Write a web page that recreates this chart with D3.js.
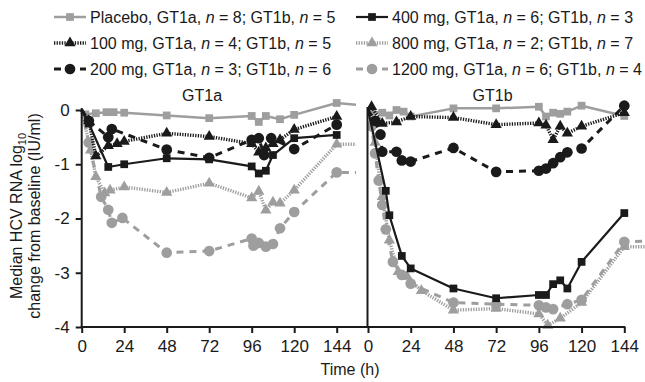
<!DOCTYPE html>
<html><head><meta charset="utf-8">
<script src="https://cdn.jsdelivr.net/npm/d3@7"></script>
<style>
body{margin:0;background:#fff;}
svg{display:block;font-family:"Liberation Sans",Arial,sans-serif;}
</style></head>
<body><svg id="c" width="645" height="382"></svg>
<script>
// ---------- DATA ----------
const panels = ["GT1a", "GT1b"];
const xTicks = [0, 24, 48, 72, 96, 120, 144];
const yTicks = [0, -1, -2, -3, -4];
const seriesNames = [
  "Placebo, GT1a, |n| = 8; GT1b, |n| = 5",
  "400 mg, GT1a, |n| = 6; GT1b, |n| = 3",
  "100 mg, GT1a, |n| = 4; GT1b, |n| = 5",
  "800 mg, GT1a, |n| = 2; GT1b, |n| = 7",
  "200 mg, GT1a, |n| = 3; GT1b, |n| = 6",
  "1200 mg, GT1a, |n| = 6; GT1b, |n| = 4"
];
// GT1a: [time (h), median change log10]
const placeboA = [[0,0],[2,-0.08],[8,-0.06],[14,-0.04],[18,-0.04],[24,-0.05],[48,-0.1],[72,-0.15],[96,-0.11],[100,-0.22],[104,-0.11],[112,-0.17],[120,-0.09],[144,0.13],[168,0.06]];
const mg400A = [[0,0],[4,-0.25],[15,-1.05],[24,-1.0],[48,-0.89],[72,-0.91],[96,-1.04],[100,-1.17],[104,-1.12],[108,-0.83],[120,-0.52],[144,-0.46]];
const mg100A = [[0,0],[4,-0.2],[8,-0.85],[15,-0.66],[20,-0.62],[24,-0.58],[48,-0.43],[72,-0.49],[96,-0.62],[100,-0.78],[104,-0.7],[108,-0.62],[112,-0.55],[120,-0.36],[144,-0.12]];
const mg800A = [[0,0],[5,-0.74],[8,-1.23],[13,-1.53],[16,-1.48],[24,-1.42],[48,-1.52],[72,-1.35],[96,-1.62],[100,-1.5],[104,-1.85],[108,-1.7],[112,-1.72],[120,-1.48],[144,-0.63],[168,-0.63]];
const mg200A = [[0,0],[4,-0.2],[15,-0.5],[17,-0.35],[48,-0.73],[72,-0.88],[96,-0.55],[100,-0.52],[103,-0.83],[107,-0.52],[120,-0.72],[144,-0.27]];
const mg1200A = [[0,0],[4,-0.6],[11,-1.6],[15,-1.84],[17,-2.08],[23,-1.99],[48,-2.63],[72,-2.6],[96,-2.37],[97,-2.5],[100,-2.45],[104,-2.52],[108,-2.47],[112,-2.18],[120,-1.88],[144,-1.15],[168,-1.15]];
// GT1b
const placeboB = [[0,0],[2,-0.03],[8,-0.05],[12,-0.1],[16,0],[20,-0.03],[24,-0.12],[48,0.03],[72,0.03],[96,0.06],[100,-0.12],[104,-0.05],[108,-0.07],[112,-0.03],[120,0.08],[144,-0.11]];
const mg400B = [[0,0],[10,-1.49],[12,-1.94],[19,-2.69],[24,-2.92],[48,-3.29],[72,-3.47],[96,-3.41],[100,-3.41],[104,-3.21],[108,-3.14],[112,-3.29],[120,-2.8],[144,-1.9]];
const mg100B = [[0,0],[2,0.06],[8,-0.25],[16,-0.22],[24,-0.12],[48,-0.14],[72,-0.27],[96,-0.24],[100,-0.28],[104,-0.55],[108,-0.3],[112,-0.43],[120,-0.3],[144,-0.05]];
const mg800B = [[0,0],[4,-0.6],[8,-1.6],[12,-2.4],[17,-2.98],[22,-3.07],[30,-3.33],[48,-3.69],[72,-3.66],[96,-3.76],[101,-3.97],[108,-3.84],[120,-3.55],[144,-2.52],[168,-2.52]];
const mg200B = [[0,0],[4,-0.2],[7,-0.45],[8,-0.77],[16,-0.77],[19,-0.93],[24,-0.95],[48,-0.7],[72,-1.14],[96,-1.12],[100,-1.08],[104,-0.98],[108,-0.87],[112,-0.78],[120,-0.71],[144,0.08]];
const mg1200B = [[0,0],[2,-0.3],[4,-0.8],[6,-1.3],[8,-1.75],[10,-2.2],[14,-2.8],[19,-3.04],[24,-3.2],[48,-3.55],[72,-3.58],[96,-3.6],[100,-3.64],[104,-3.67],[112,-3.58],[120,-3.5],[144,-2.43],[168,-2.4]];

// ---------- STYLES ----------
const GRAY = "#9e9e9e", BLACK = "#1a1a1a";
const styles = [
  {color:GRAY, dash:null, width:2.5, shape:"square"},
  {color:BLACK, dash:null, width:2.2, shape:"square"},
  {color:BLACK, dash:"1.3,1.3", width:3.4, shape:"triangle"},
  {color:GRAY, dash:"1.3,1.3", width:3.4, shape:"triangle"},
  {color:BLACK, dash:"7,6", width:3, shape:"circle"},
  {color:GRAY, dash:"7,6", width:3, shape:"circle"}
];
const dataA = [placeboA, mg400A, mg100A, mg800A, mg200A, mg1200A];
const dataB = [placeboB, mg400B, mg100B, mg800B, mg200B, mg1200B];
const drawOrder = [3,5,0,2,4,1];

const svg = d3.select("#c");
const y = d3.scaleLinear().domain([-4,0]).range([327,110]);
const xA = d3.scaleLinear().domain([0,144]).range([81.7,336.7]);
const xB = d3.scaleLinear().domain([0,144]).range([368,624.3]);

const sym = {
  square: d3.symbol().type(d3.symbolSquare).size(60),
  triangle: d3.symbol().type(d3.symbolTriangle).size(55),
  circle: d3.symbol().type(d3.symbolCircle).size(90)
};

const defs = svg.append("defs");
defs.append("clipPath").attr("id","clipA").append("rect").attr("x",0).attr("y",0).attr("width",356).attr("height",382);
defs.append("clipPath").attr("id","clipB").append("rect").attr("x",367).attr("y",0).attr("width",278).attr("height",382);

function drawPanel(x, data, clip){
  const g = svg.append("g").attr("clip-path","url(#"+clip+")");
  const line = d3.line().x(d=>x(d[0])).y(d=>y(d[1]));
  drawOrder.forEach(i=>{
    const s = styles[i];
    g.append("path").datum(data[i]).attr("d",line).attr("fill","none")
      .attr("stroke",s.color).attr("stroke-width",s.width)
      .attr("stroke-dasharray",s.dash).attr("stroke-linejoin","round");
    g.selectAll(null).data(data[i].filter(d=>d[0]>0)).enter().append("path")
      .attr("d",sym[s.shape]).attr("fill",s.color)
      .attr("transform",d=>`translate(${x(d[0])},${y(d[1])})`);
  });
}
drawPanel(xA, dataA, "clipA");
drawPanel(xB, dataB, "clipB");

// ---------- AXES ----------
const fmt = d => d===0 ? "0" : "-" + Math.abs(d);
const axA = svg.append("g").attr("transform","translate(0,327)")
  .call(d3.axisBottom(xA).tickValues(xTicks).tickSize(6).tickPadding(7).tickSizeOuter(0));
const axB = svg.append("g").attr("transform","translate(0,327)")
  .call(d3.axisBottom(xB).tickValues(xTicks).tickSize(6).tickPadding(7).tickSizeOuter(0));
const ayA = svg.append("g").attr("transform","translate(81.7,0)")
  .call(d3.axisLeft(y).tickValues(yTicks).tickFormat(fmt).tickSize(6).tickPadding(6).tickSizeOuter(0));
[axA,axB,ayA].forEach(a=>{
  a.select(".domain").remove();
  a.selectAll("line").attr("stroke",BLACK).attr("stroke-width",2);
  a.selectAll("text").attr("font-size",17).attr("fill",BLACK).attr("font-family","Liberation Sans, Arial, sans-serif");
});
// axis lines
svg.append("line").attr("x1",80.7).attr("x2",625.3).attr("y1",327).attr("y2",327).attr("stroke",BLACK).attr("stroke-width",2);
svg.append("line").attr("x1",81.7).attr("x2",81.7).attr("y1",108).attr("y2",328).attr("stroke",BLACK).attr("stroke-width",2);
svg.append("line").attr("x1",367.5).attr("x2",367.5).attr("y1",107).attr("y2",328).attr("stroke",BLACK).attr("stroke-width",2);

// panel titles
svg.append("text").attr("x",xA(68)).attr("y",101).attr("text-anchor","middle").attr("font-size",16).attr("fill",BLACK).text(panels[0]);
svg.append("text").attr("x",xB(70)).attr("y",101).attr("text-anchor","middle").attr("font-size",16).attr("fill",BLACK).text(panels[1]);

// axis titles
svg.append("text").attr("x",350).attr("y",375).attr("text-anchor","middle").attr("font-size",16).attr("fill",BLACK).text("Time (h)");
const yt1 = svg.append("text").attr("transform","translate(22,216) rotate(-90)").attr("text-anchor","middle").attr("font-size",16).attr("fill",BLACK);
yt1.append("tspan").text("Median HCV RNA log");
yt1.append("tspan").attr("font-size",11).attr("dy",4).text("10");
svg.append("text").attr("transform","translate(40,216) rotate(-90)").attr("text-anchor","middle").attr("font-size",16).attr("fill",BLACK).text("change from baseline (IU/ml)");

// ---------- LEGEND ----------
const legPos = [[54,17],[356,17],[54,43],[356,43],[54,69],[356,69]];
seriesNames.forEach((name,i)=>{
  const s = styles[i];
  const [lx,ly] = legPos[i];
  const g = svg.append("g").attr("transform",`translate(${lx},${ly})`);
  g.append("line").attr("x1",0).attr("x2",32).attr("y1",0).attr("y2",0)
    .attr("stroke",s.color).attr("stroke-width",s.width).attr("stroke-dasharray",s.dash);
  g.append("path").attr("d",sym[s.shape]).attr("fill",s.color).attr("transform","translate(16,0)");
  const t = g.append("text").attr("x",36).attr("y",5.5).attr("font-size",16).attr("fill",BLACK);
  name.split("|").forEach((part,k)=>{
    t.append("tspan").attr("font-style", k%2===1 ? "italic" : null).text(part);
  });
});
</script></body></html>
